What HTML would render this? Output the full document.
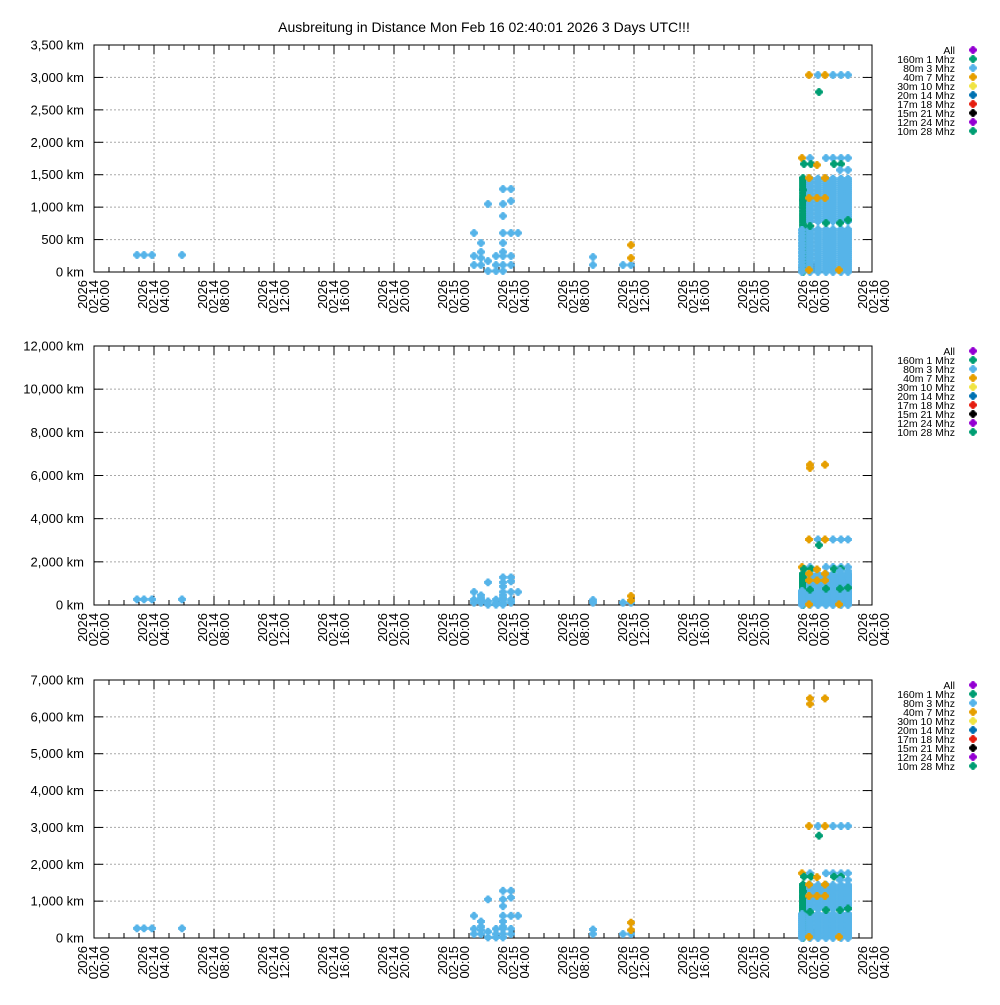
<!DOCTYPE html>
<html><head><meta charset="utf-8"><style>
body{margin:0;background:#fff}
svg text{font-family:"Liberation Sans",sans-serif;fill:#000}
</style></head><body>
<svg id="s" width="1000" height="1000" xmlns="http://www.w3.org/2000/svg">
<rect width="1000" height="1000" fill="#fff"/>
<text x="484" y="32" font-size="14" text-anchor="middle">Ausbreitung in Distance Mon Feb 16 02:40:01 2026 3 Days UTC!!!</text>
</svg>
<script>
const S=document.getElementById('s');const NS='http://www.w3.org/2000/svg';
function el(t,a,txt){const e=document.createElementNS(NS,t);for(const k in a)e.setAttribute(k,a[k]);if(txt!==undefined)e.textContent=txt;S.appendChild(e);return e;}
const B='#56b4e9',G='#009e73',O='#e69f00';
function k1(y){return (272-y)*3500/227;}
let pts=[];
function addP(x,y,c){pts.push([x,k1(y),c]);}
[[137,255],[144,255],[152,255],[182,255]].forEach(p=>addP(p[0],p[1],B));
[[474,233],[474,256],[474,265],[481,243],[481,252],[481,258],[481,265],[488,204],[488,261],[488,271],[496,256],[496,265],[496,271],
[503,189],[503,204],[503,216],[503,233],[503,243],[503,252],[503,256],[503,265],[503,271],[511,189],[511,201],[511,233],[511,256],[511,265],[518,233],
[593,257],[593,265],[623,265],[631,265]].forEach(p=>addP(p[0],p[1],B));
addP(631,245,O);addP(631,258,O);
for(let k=0;k<=1450;k+=45){pts.push([803,k,G]);}
for(let k=0;k<=650;k+=50){pts.push([802,k,B]);}
const cols=[810,818,826,833,841,848];
cols.forEach(x=>{for(let k=0;k<=1450;k+=30){if(k>680&&k<760)continue;pts.push([x,k,B]);}});
[[802,158,O],[810,158,B],[826,158,B],[833,158,B],[841,158,B],[848,158,B],[804,164,G],[811,164,G],[834,164,G],[841,164,G],[817,165,O],[840,170,B],[848,170,B],
[803,178,G],[803,190,G],[803,200,G],[810,226,G],[826,223,G],[840,223,G],[848,220,G],[809,178,O],[825,178,O],[809,198,O],[817,198,O],[825,198,O],[809,270,O],[839,270,O],
[809,75,O],[818,75,B],[825,75,O],[833,75,B],[841,75,B],[848,75,B],[819,92,G]].forEach(p=>addP(p[0],p[1],p[2]));
const extra=[[810,6500,O],[810,6350,O],[825,6500,O]];
function marker(x,y,c){
 const a=1.5,b=2.6,r=3.9;
 el('polygon',{points:`${x-a},${y-r} ${x+a},${y-r} ${x+a},${y-b} ${x+b},${y-b} ${x+b},${y-a} ${x+r},${y-a} ${x+r},${y+a} ${x+b},${y+a} ${x+b},${y+b} ${x+a},${y+b} ${x+a},${y+r} ${x-a},${y+r} ${x-a},${y+b} ${x-b},${y+b} ${x-b},${y+a} ${x-r},${y+a} ${x-r},${y-a} ${x-b},${y-a} ${x-b},${y-b} ${x-a},${y-b}`,fill:c});}
const legend=[['All','#9400d3'],['160m  1 Mhz',G],['80m  3 Mhz',B],['40m  7 Mhz',O],['30m 10 Mhz','#f0e442'],['20m 14 Mhz','#0072b2'],['17m 18 Mhz','#e51e10'],['15m 21 Mhz','#000'],['12m 24 Mhz','#9400d3'],['10m 28 Mhz',G]];
function plot(top,bot,max,step,extraOn){
 const L=94,R=872,h=bot-top;
 const X=hr=>L+hr*15;
 const Y=k=>bot-k*h/max;
 for(let k=step;k<max;k+=step){el('line',{x1:L,x2:R,y1:Y(k),y2:Y(k),stroke:'#a8a8a8','stroke-dasharray':'2,2'});}
 for(let hr=4;hr<=48;hr+=4){el('line',{x1:X(hr),x2:X(hr),y1:top,y2:bot,stroke:'#a8a8a8','stroke-dasharray':'2,2'});}
 for(let k=0;k<=max;k+=step){const y=Y(k);el('line',{x1:L,x2:L+9,y1:y,y2:y,stroke:'#000'});el('line',{x1:R,x2:R-9,y1:y,y2:y,stroke:'#000'});
  el('text',{x:L-10,y:y+4.5,'font-size':13,'text-anchor':'end'},k.toLocaleString('en-US')+' km');}
 for(let hr=0;hr<=51;hr++){const x=X(hr),big=hr%4==0?9:5;el('line',{x1:x,x2:x,y1:bot,y2:bot-big,stroke:'#000'});el('line',{x1:x,x2:x,y1:top,y2:top+big,stroke:'#000'});}
 for(let hr=0;hr<=52;hr+=4){const x=X(hr);const d='02-'+(14+Math.floor(hr/24));const t=String(hr%24).padStart(2,'0')+':00';
  [['2026',-7],[d,4],[t,15]].forEach(([s,o])=>{el('text',{x:x+o,y:bot+8,'font-size':13,'text-anchor':'end',transform:`rotate(-90 ${x+o} ${bot+8})`},s);});}
 el('rect',{x:L,y:top,width:R-L,height:h,fill:'none',stroke:'#000'});
 pts.forEach(p=>marker(p[0],Y(p[1]),p[2]));
 if(extraOn)extra.forEach(p=>marker(p[0],Y(p[1]),p[2]));
 legend.forEach((l,i)=>{const y=top+5+i*9;el('text',{x:955,y:y+4,'font-size':10.5,'text-anchor':'end','xml:space':'preserve'},l[0]);marker(973,y,l[1]);});
}
plot(45,272,3500,500,false);
plot(346,605,12000,2000,true);
plot(680,938,7000,1000,true);
</script>
</body></html>
